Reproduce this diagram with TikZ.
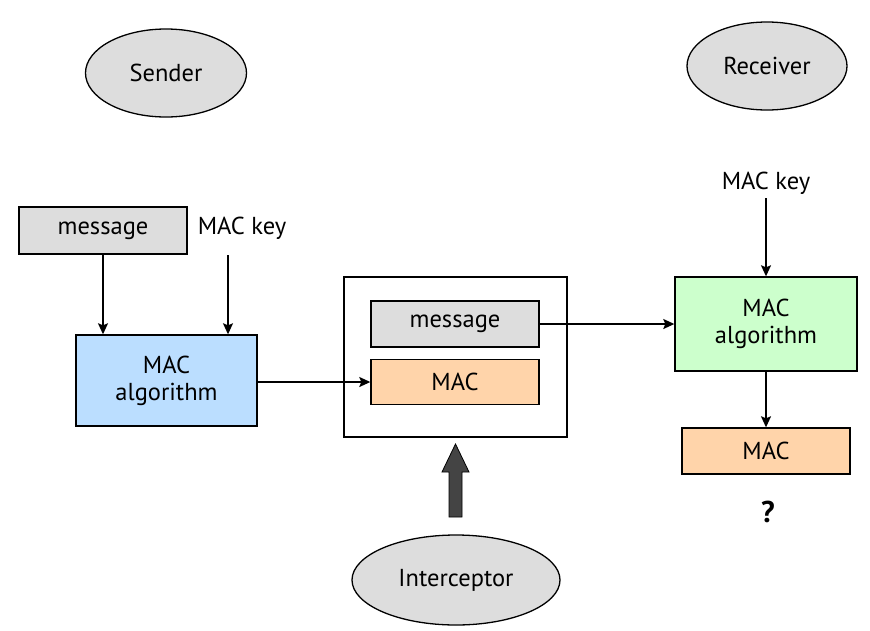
\documentclass[tikz,border=0pt]{standalone}
\usepackage{fontspec}
\setmainfont{PT Sans}
\usetikzlibrary{arrows.meta,shapes.geometric}
\definecolor{boxgray}{HTML}{DDDDDD}
\definecolor{blueF}{HTML}{BBDEFF}
\definecolor{greenF}{HTML}{CCFFCC}
\definecolor{orangeF}{HTML}{FFD4AA}
\definecolor{thickF}{HTML}{444444}
\begin{document}
\begin{tikzpicture}[x=1pt,y=-1pt,
  font=\fontsize{24.5}{27}\selectfont,
  box/.style={draw=black, line width=1.4pt, inner sep=0pt, align=center},
  ell/.style={ellipse, draw=black, fill=boxgray, inner sep=0pt, line width=1.3pt},
  arr/.style={-{Stealth[length=11pt,width=10pt,inset=2pt]}, line width=1.4pt},
  lbl/.style={anchor=base, inner sep=0pt}]
\useasboundingbox[fill=white] (0,0) rectangle (870,630);
% actors
\node[ell, minimum width=161pt, minimum height=88pt] (sender) at (166,73) {Sender};
\node[ell, minimum width=160pt, minimum height=88pt] (receiver) at (767,66) {Receiver};
\node[ell, minimum width=208pt, minimum height=90pt] (intercept) at (456,580) {Interceptor};
% sender side
\node[box, fill=boxgray, minimum width=168pt, minimum height=47pt] (msgL) at (103,230.5) {message};
\node[lbl] (keyL) at (242,234) {MAC key};
\node[box, fill=blueF, minimum width=181pt, minimum height=91pt] (algL) at (166.5,380.5) {MAC\\algorithm};
\coordinate (keyLs) at (228,255);
\draw[arr] (msgL.south) -- (msgL.south |- algL.north);
\draw[arr] (keyLs) -- (keyLs |- algL.north);
% packet
\node[box, fill=white, minimum width=223pt, minimum height=160pt] (packet) at (455.5,357) {};
\node[box, fill=boxgray, minimum width=168pt, minimum height=46pt] (msgM) at (455,324) {message};
\node[box, fill=orangeF, minimum width=168pt, minimum height=45pt] (macM) at (455,382) {MAC};
\draw[arr] (macM.west -| algL.east) -- (macM.west);
% receiver side
\node[box, fill=greenF, minimum width=182pt, minimum height=94pt] (algR) at (766,324) {MAC\\algorithm};
\node[lbl] (keyR) at (766,189) {MAC key};
\coordinate (keyRs) at (766,198);
\draw[arr] (keyRs) -- (algR.north);
\draw[arr] (msgM.east) -- (msgM.east -| algR.west);
\node[box, fill=orangeF, minimum width=168pt, minimum height=46pt] (macR) at (766,451) {MAC};
\draw[arr] (algR.south) -- (macR.north);
\node[inner sep=0pt, font=\fontsize{30}{32}\selectfont\bfseries] (q) at (768,512) {?};
% thick arrow from interceptor to packet
\draw[fill=thickF, draw=black, line width=0.8pt]
  (449,517) -- (449,472) -- (442,472) -- (455.5,444) -- (469,472) -- (462,472) -- (462,517) -- cycle;
\end{tikzpicture}
\end{document}
